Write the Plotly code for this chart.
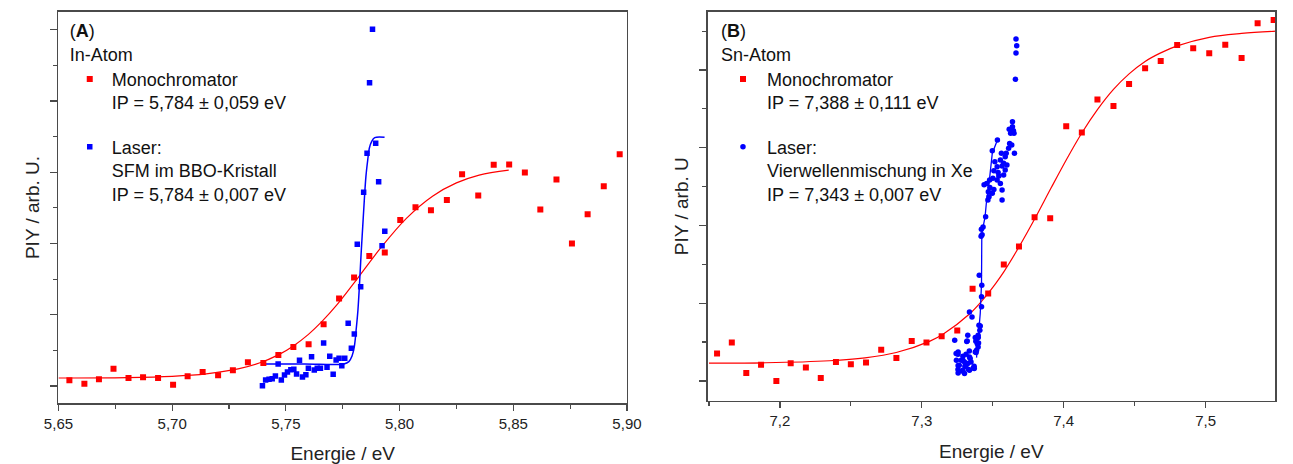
import plotly.graph_objects as go

# ---------------- Panel A: In-Atom ----------------
a_mono_x = [5.6548, 5.6614, 5.6678, 5.6742, 5.6808, 5.6872, 5.6938, 5.7004, 5.7068, 5.7134,
            5.7202, 5.7267, 5.7333, 5.7401, 5.7467, 5.7533, 5.7600, 5.7666, 5.7734, 5.7800,
            5.7867, 5.7935, 5.8003, 5.8070, 5.8138, 5.8208, 5.8275, 5.8346, 5.8414, 5.8482,
            5.8551, 5.8619, 5.8690, 5.8758, 5.8827, 5.8898, 5.8968]
a_mono_y = [0.080, 0.033, 0.094, 0.243, 0.112, 0.122, 0.112, 0.019, 0.136, 0.197,
            0.150, 0.220, 0.332, 0.323, 0.435, 0.548, 0.585, 0.866, 1.227, 1.522,
            1.826, 1.873, 2.331, 2.509, 2.467, 2.612, 2.973, 2.673, 3.104, 3.109,
            2.996, 2.477, 2.898, 1.999, 2.411, 2.804, 3.254]

a_laser_x = [5.7397, 5.7411, 5.7426, 5.7440, 5.7454, 5.7466, 5.7480, 5.7494, 5.7507, 5.7522,
             5.7535, 5.7547, 5.7560, 5.7573, 5.7588, 5.7599, 5.7613, 5.7625, 5.7638, 5.7652,
             5.7666, 5.7681, 5.7693, 5.7708, 5.7721, 5.7734, 5.7746, 5.7759, 5.7774, 5.7788,
             5.7801, 5.7814, 5.7829, 5.7842, 5.7857, 5.7868, 5.7881, 5.7895, 5.7908, 5.7923,
             5.7935]
a_laser_y = [0.005, 0.084, 0.094, 0.103, 0.140, 0.309, 0.084, 0.154, 0.196, 0.229,
             0.234, 0.168, 0.360, 0.126, 0.159, 0.248, 0.412, 0.225, 0.248, 0.248,
             0.604, 0.262, 0.416, 0.164, 0.365, 0.388, 0.285, 0.388, 0.880, 0.529,
             0.730, 1.988, 1.394, 2.718, 3.266, 4.257, 5.006, 3.406, 2.868, 1.969,
             2.171]

a_mono_fit_x = [5.650, 5.680, 5.700, 5.715, 5.729, 5.7383, 5.7469, 5.7533, 5.7598, 5.7662,
                5.7726, 5.7818, 5.7917, 5.803, 5.8145, 5.825, 5.835, 5.848]
a_mono_fit_y = [0.112, 0.118, 0.136, 0.170, 0.239, 0.322, 0.440, 0.562, 0.721, 0.917,
                1.145, 1.522, 1.937, 2.353, 2.664, 2.850, 2.960, 3.030]

a_laser_fit_x = [5.7401, 5.7583, 5.7755, 5.7777, 5.7791, 5.7801, 5.7809, 5.7817, 5.7824, 5.7831,
                 5.7838, 5.7845, 5.7852, 5.7860, 5.7867, 5.7877, 5.7891, 5.7934]
a_laser_fit_y = [0.309, 0.309, 0.309, 0.342, 0.421, 0.552, 0.786, 1.067, 1.441, 1.862,
                 2.236, 2.611, 2.938, 3.172, 3.336, 3.429, 3.485, 3.490]

# ---------------- Panel B: Sn-Atom ----------------
b_mono_x = [7.1557, 7.1661, 7.1763, 7.1867, 7.1975, 7.2076, 7.2183, 7.2288, 7.2395, 7.2500,
            7.2607, 7.2714, 7.2821, 7.2929, 7.3033, 7.3140, 7.3250, 7.3358, 7.3468, 7.3578,
            7.3685, 7.3795, 7.3905, 7.4018, 7.4128, 7.4238, 7.4351, 7.4461, 7.4574, 7.4684,
            7.4800, 7.4913, 7.5026, 7.5139, 7.5254, 7.5367, 7.5480]
b_mono_y = [0.352, 0.494, 0.103, 0.210, 0.000, 0.227, 0.172, 0.039, 0.245, 0.215,
            0.236, 0.403, 0.296, 0.515, 0.494, 0.575, 0.648, 1.185, 1.124, 1.498,
            1.730, 2.107, 2.094, 3.275, 3.197, 3.622, 3.536, 3.820, 4.021, 4.116,
            4.322, 4.279, 4.215, 4.326, 4.155, 4.601, 4.644]

b_laser_x = [7.3664, 7.3669, 7.3664, 7.3660,
             7.3639, 7.3639, 7.3616, 7.3646, 7.3626, 7.3650, 7.3533, 7.3619, 7.3634, 7.3612,
             7.3653, 7.3595, 7.3561, 7.3497, 7.3588, 7.3554, 7.3515, 7.3577, 7.3600, 7.3566,
             7.3531, 7.3588, 7.3508, 7.3538, 7.3577, 7.3543, 7.3501, 7.3531, 7.3478, 7.3457,
             7.3554, 7.3439, 7.3480, 7.3508, 7.3469, 7.3497, 7.3566, 7.3474, 7.3566, 7.3466,
             7.3450,
             7.3432, 7.3420, 7.3425, 7.3418, 7.3405, 7.3423,
             7.3421, 7.3336, 7.3354, 7.3421, 7.3412, 7.3409, 7.3324, 7.3398, 7.3232, 7.3317,
             7.3381, 7.3400, 7.3386, 7.3377, 7.3255, 7.3290, 7.3336, 7.3244, 7.3278, 7.3301,
             7.3324, 7.3347, 7.3264, 7.3310, 7.3370, 7.3255, 7.3290, 7.3336, 7.3301,
             7.3242, 7.3256, 7.3335, 7.3312, 7.3341, 7.3290, 7.3256, 7.3304, 7.3363, 7.3256,
             7.3284, 7.3330, 7.3369, 7.3383, 7.3397, 7.3391, 7.3320, 7.3403, 7.3377, 7.3397]
b_laser_y = [4.399, 4.313, 4.219, 3.880,
             3.335, 3.270, 3.237, 3.219, 3.185, 3.185, 3.099, 3.056, 3.035, 2.992,
             2.928, 2.928, 2.928, 2.961, 2.884, 2.842, 2.820, 2.799, 2.777, 2.764,
             2.755, 2.713, 2.704, 2.683, 2.648, 2.636, 2.606, 2.584, 2.584, 2.541,
             2.541, 2.524, 2.490, 2.464, 2.433, 2.413, 2.455, 2.369, 2.327, 2.327,
             2.111,
             1.980, 1.950, 1.880, 1.860, 1.361, 1.232,
             1.082, 0.888, 0.824, 0.953, 0.708, 0.653, 0.588, 0.558, 0.524, 0.507,
             0.511, 0.489, 0.395, 0.373, 0.344, 0.318, 0.309, 0.267, 0.267, 0.245,
             0.224, 0.245, 0.202, 0.189, 0.160, 0.147, 0.138, 0.138, 0.095,
             0.352, 0.373, 0.386, 0.343, 0.288, 0.266, 0.200, 0.190, 0.167, 0.103,
             0.129, 0.146, 0.189, 0.365, 0.438, 0.480, 0.515, 0.717, 0.558, 0.588]

b_mono_fit_x = [7.150, 7.190, 7.235, 7.260, 7.282, 7.3058, 7.3152, 7.3336, 7.3428, 7.3519,
                7.3577, 7.3692, 7.3802, 7.391, 7.4018, 7.4128, 7.4238, 7.4351, 7.4461, 7.4574,
                7.4684, 7.480, 7.5026, 7.5254, 7.550]
b_mono_fit_y = [0.230, 0.234, 0.260, 0.298, 0.366, 0.513, 0.604, 0.861, 1.040, 1.250,
                1.400, 1.745, 2.105, 2.478, 2.843, 3.190, 3.490, 3.750, 3.950, 4.110,
                4.220, 4.310, 4.420, 4.470, 4.500]

b_laser_fit_x = [7.3386, 7.3398, 7.3412, 7.3421, 7.3423, 7.3446, 7.3457, 7.3474, 7.3485,
                 7.3497, 7.3533]
b_laser_fit_y = [0.300, 0.588, 0.867, 1.254, 1.897, 2.110, 2.327, 2.541, 2.755,
                 2.930, 3.100]

legend_a_title = "(<b>A</b>)<br>In-Atom"
legend_a_mono = "Monochromator<br>IP = 5,784 ± 0,059 eV"
legend_a_laser = "Laser:<br>SFM im BBO-Kristall<br>IP = 5,784 ± 0,007 eV"
legend_b_title = "(<b>B</b>)<br>Sn-Atom"
legend_b_mono = "Monochromator<br>IP = 7,388 ± 0,111 eV"
legend_b_laser = "Laser:<br>Vierwellenmischung in Xe<br>IP = 7,343 ± 0,007 eV"

RED = "#FF0000"
BLUE = "#0000FF"
AXC = "#4a4a4a"
FONT = "Liberation Sans, Arial, sans-serif"
W, H = 1293, 464

fig = go.Figure()

# Panel A traces
fig.add_trace(go.Scatter(x=a_mono_fit_x, y=a_mono_fit_y, mode="lines", line=dict(color=RED, width=1.2, shape="spline"),
                         xaxis="x", yaxis="y", showlegend=False, hoverinfo="skip"))
fig.add_trace(go.Scatter(x=a_laser_fit_x, y=a_laser_fit_y, mode="lines", line=dict(color=BLUE, width=1.5, shape="spline"),
                         xaxis="x", yaxis="y", showlegend=False, hoverinfo="skip"))
fig.add_trace(go.Scatter(x=a_mono_x, y=a_mono_y, mode="markers", name=legend_a_mono,
                         marker=dict(symbol="square", size=6, color=RED),
                         xaxis="x", yaxis="y", legend="legend", legendgroup="a1"))
fig.add_trace(go.Scatter(x=a_laser_x, y=a_laser_y, mode="markers", name=legend_a_laser,
                         marker=dict(symbol="square", size=5.5, color=BLUE),
                         xaxis="x", yaxis="y", legend="legend", legendgroup="a2"))

# Panel B traces
fig.add_trace(go.Scatter(x=b_mono_fit_x, y=b_mono_fit_y, mode="lines", line=dict(color=RED, width=1.2, shape="spline"),
                         xaxis="x2", yaxis="y2", showlegend=False, hoverinfo="skip"))
fig.add_trace(go.Scatter(x=b_laser_fit_x, y=b_laser_fit_y, mode="lines", line=dict(color=BLUE, width=1.3),
                         xaxis="x2", yaxis="y2", showlegend=False, hoverinfo="skip"))
fig.add_trace(go.Scatter(x=b_mono_x, y=b_mono_y, mode="markers", name=legend_b_mono,
                         marker=dict(symbol="square", size=6, color=RED),
                         xaxis="x2", yaxis="y2", legend="legend2", legendgroup="b1"))
fig.add_trace(go.Scatter(x=b_laser_x, y=b_laser_y, mode="markers", name=legend_b_laser,
                         marker=dict(symbol="circle", size=5.5, color=BLUE),
                         xaxis="x2", yaxis="y2", legend="legend2", legendgroup="b2"))

common_axis = dict(showline=True, linecolor=AXC, linewidth=1.5, mirror=True, showgrid=False, zeroline=False,
                   ticks="outside", tickcolor=AXC, tickwidth=1.2, fixedrange=True)

xa_dom = [44.5 / W, 626.5 / W]
xb_dom = [709 / W, 1290 / W]
ya_dom = [(H - 403.3) / H, (H - 11.7) / H]
yb_dom = [(H - 400.7) / H, (H - 11.7) / H]

legend_common = dict(xanchor="left", yanchor="top", bgcolor="rgba(0,0,0,0)", borderwidth=0,
                     font=dict(size=18, family=FONT, color="#111111"), valign="top",
                     tracegroupgap=18, traceorder="grouped")

fig.update_layout(
    width=W, height=H, autosize=False,
    margin=dict(l=0, r=0, t=0, b=0),
    paper_bgcolor="white", plot_bgcolor="white",
    separators=", ",
    font=dict(family=FONT, size=18, color="#111111"),
    xaxis=dict(common_axis, domain=xa_dom, anchor="y", range=[5.65, 5.90], tick0=5.65, dtick=0.05,
               tickformat=".2f", ticklen=6, tickfont=dict(size=15, color="#222222"),
               minor=dict(dtick=0.025, ticklen=4, tickcolor=AXC, tickwidth=1.2, ticks="outside"),
               title=dict(text="Energie / eV", font=dict(size=19, color="#222222"), standoff=16)),
    yaxis=dict(common_axis, domain=ya_dom, anchor="x", range=[-0.243, 5.253],
               tickvals=[0, 1, 2, 3, 4, 5], showticklabels=False, ticklen=7,
               minor=dict(tickvals=[0.5, 1.5, 2.5, 3.5, 4.5], ticklen=4, tickcolor=AXC, tickwidth=1.2, ticks="outside"),
               title=dict(text="PIY / arb. U.", font=dict(size=19, color="#222222"), standoff=5)),
    xaxis2=dict(common_axis, domain=xb_dom, anchor="y2", range=[7.149, 7.549], tick0=7.2, dtick=0.1,
                tickformat=".1f", ticklen=6, tickfont=dict(size=15, color="#222222"),
                minor=dict(dtick=0.05, ticklen=4, tickcolor=AXC, tickwidth=1.2, ticks="outside"),
                title=dict(text="Energie / eV", font=dict(size=19, color="#222222"), standoff=16)),
    yaxis2=dict(common_axis, domain=yb_dom, anchor="x2", range=[-0.254, 4.75],
                tickvals=[0, 1, 2, 3, 4], showticklabels=False, ticklen=7,
                minor=dict(tickvals=[0.5, 1.5, 2.5, 3.5, 4.5], ticklen=4, tickcolor=AXC, tickwidth=1.2, ticks="outside"),
                title=dict(text="PIY / arb. U", font=dict(size=19, color="#222222"), standoff=5)),
    legend=dict(legend_common, x=54 / W, y=(H - 14) / H, itemwidth=34,
                title=dict(text=legend_a_title, font=dict(size=18, family=FONT, color="#111111"), side="top")),
    legend2=dict(legend_common, x=720.7 / W, y=(H - 14) / H, itemwidth=38,
                 title=dict(text=legend_b_title, font=dict(size=18, family=FONT, color="#111111"), side="top")),
)

fig.write_html("out.html", config={"displayModeBar": False, "staticPlot": True})
